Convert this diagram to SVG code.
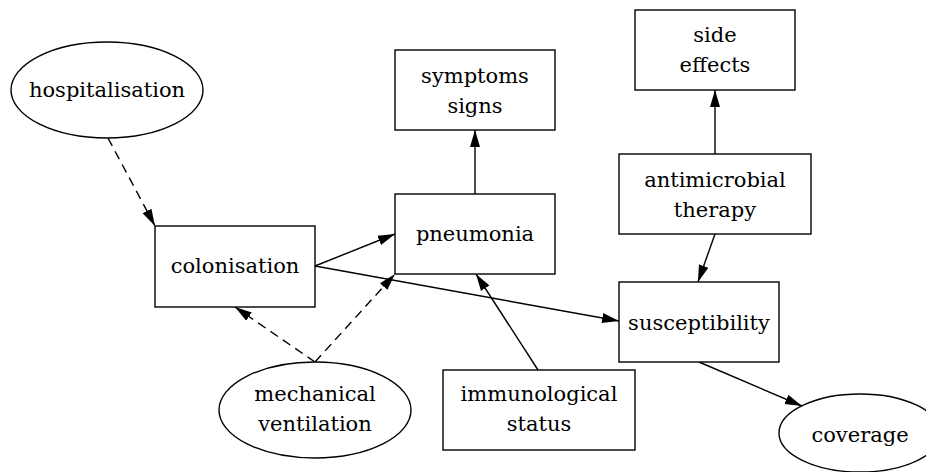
<svg xmlns="http://www.w3.org/2000/svg" width="926" height="472" viewBox="0 0 926 472">
<style>
  .shape { fill: #ffffff; stroke: #000000; stroke-width: 1.4; }
  .lbl { font-family: "DejaVu Serif", "Liberation Serif", serif; font-size: 21px; fill: #000000; text-anchor: middle; }
  .edge { fill: none; stroke: #000000; stroke-width: 1.4; marker-end: url(#arrow); }
  .dashed { stroke-dasharray: 9,6; }
</style>
<defs>
  <marker id="arrow" markerUnits="userSpaceOnUse" markerWidth="18" markerHeight="12" refX="17" refY="5.5" orient="auto">
    <path d="M0,0.5 L17,5.5 L0,10.5 Z" fill="#000000"/>
  </marker>
</defs>
<rect width="926" height="472" fill="#ffffff"/>
<g id="connectors">
  <line class="edge dashed" x1="108" y1="138" x2="155" y2="226"/>
  <line class="edge" x1="315" y1="266" x2="395" y2="234"/>
  <line class="edge" x1="315" y1="266" x2="619" y2="321"/>
  <line class="edge dashed" x1="315" y1="362" x2="235" y2="307"/>
  <line class="edge dashed" x1="315" y1="362" x2="395" y2="274"/>
  <line class="edge" x1="538" y1="370" x2="476" y2="274"/>
  <line class="edge" x1="475" y1="194" x2="475" y2="130"/>
  <line class="edge" x1="715" y1="154" x2="715" y2="90"/>
  <line class="edge" x1="715" y1="234" x2="698" y2="282"/>
  <line class="edge" x1="699" y1="362" x2="802" y2="406"/>
</g>
<g id="hospitalisation">
  <ellipse class="shape" cx="107" cy="90" rx="96" ry="48"/>
  <text class="lbl" x="107" y="97">hospitalisation</text>
</g>
<g id="colonisation">
  <rect class="shape" x="155" y="226" width="160" height="81"/>
  <text class="lbl" x="235" y="273">colonisation</text>
</g>
<g id="symptoms">
  <rect class="shape" x="395" y="50" width="160" height="80"/>
  <text class="lbl" x="475" y="83">symptoms</text>
  <text class="lbl" x="475" y="113">signs</text>
</g>
<g id="pneumonia">
  <rect class="shape" x="395" y="194" width="160" height="80"/>
  <text class="lbl" x="475" y="241">pneumonia</text>
</g>
<g id="side_effects">
  <rect class="shape" x="635" y="10" width="160" height="80"/>
  <text class="lbl" x="715" y="42">side</text>
  <text class="lbl" x="715" y="72">effects</text>
</g>
<g id="antimicrobial">
  <rect class="shape" x="619" y="154" width="192" height="80"/>
  <text class="lbl" x="715" y="187">antimicrobial</text>
  <text class="lbl" x="715" y="217">therapy</text>
</g>
<g id="susceptibility">
  <rect class="shape" x="619" y="282" width="160" height="80"/>
  <text class="lbl" x="699" y="330">susceptibility</text>
</g>
<g id="immunological">
  <rect class="shape" x="443" y="370" width="192" height="80"/>
  <text class="lbl" x="539" y="401">immunological</text>
  <text class="lbl" x="539" y="431">status</text>
</g>
<g id="mechanical_ventilation">
  <ellipse class="shape" cx="315" cy="410" rx="96" ry="48"/>
  <text class="lbl" x="315" y="401">mechanical</text>
  <text class="lbl" x="315" y="431">ventilation</text>
</g>
<g id="coverage">
  <ellipse class="shape" cx="860" cy="433" rx="81" ry="39"/>
  <text class="lbl" x="860" y="442">coverage</text>
</g>
</svg>
